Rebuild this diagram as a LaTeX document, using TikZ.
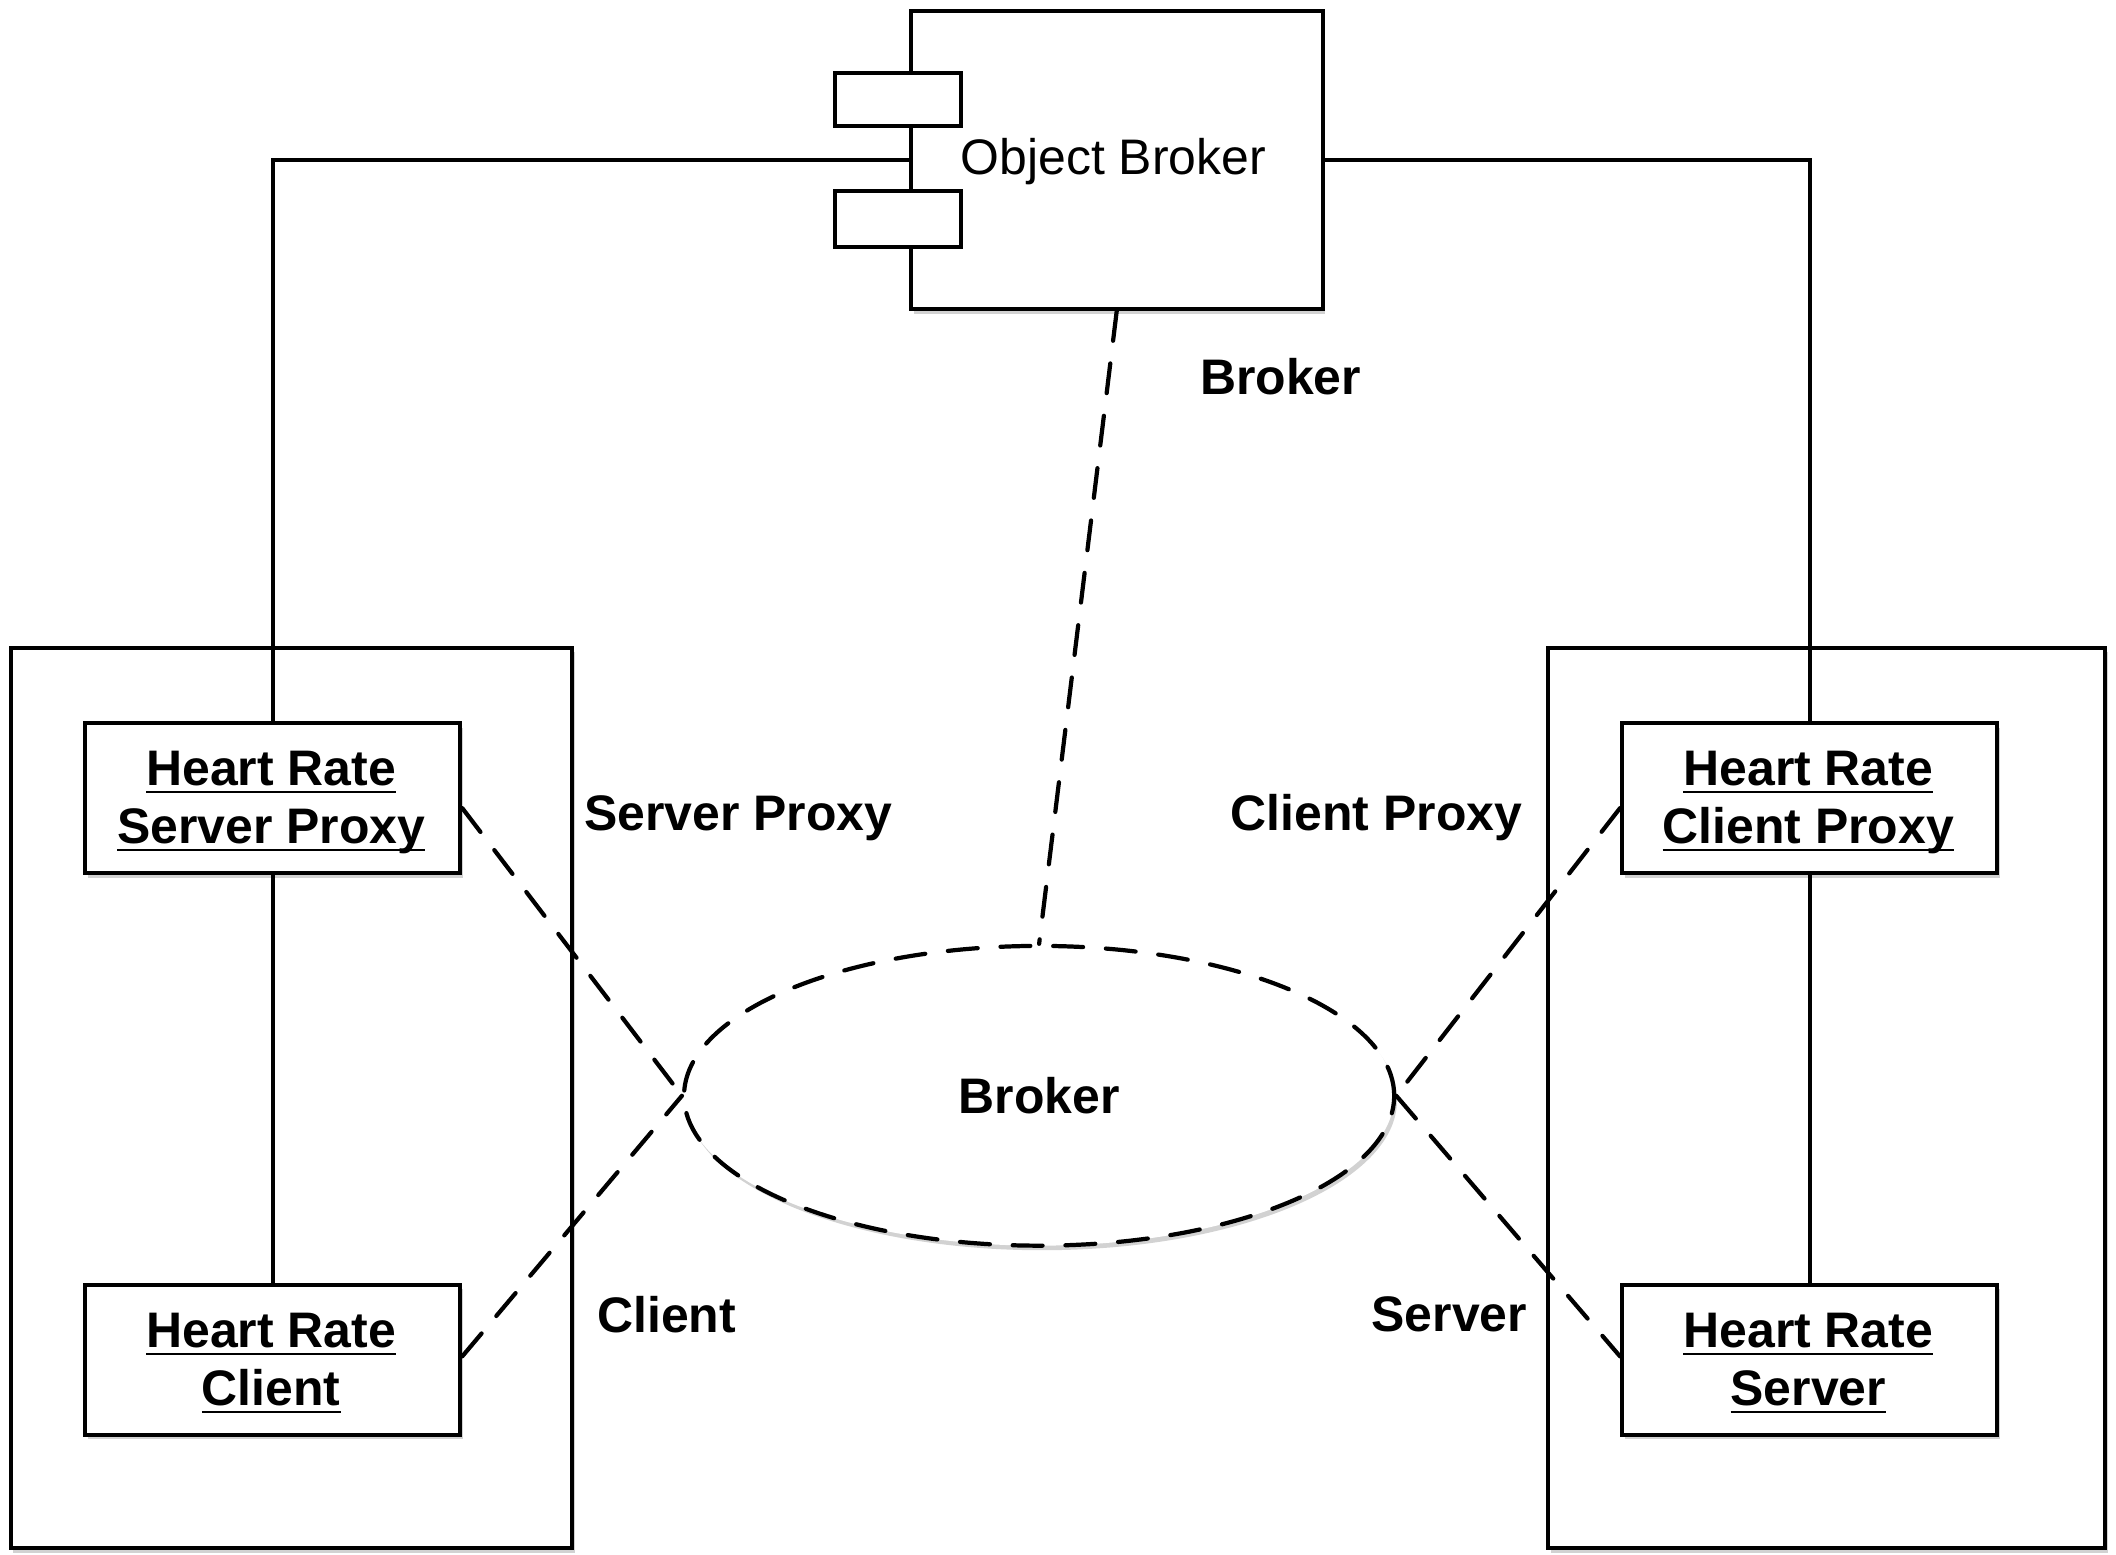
\documentclass[tikz,border=0pt]{standalone}
\usepackage{fontspec}
\setmainfont{Liberation Sans}
\usetikzlibrary{shapes.geometric,shadows}
\newcommand\uln[1]{\setbox0=\hbox{#1}\rlap{\rule[-2.3pt]{\wd0}{0.75pt}}\box0}
\begin{document}
\begin{tikzpicture}[x=0.013495cm, y=-0.013495cm,
  shad/.style={drop shadow={opacity=0.35, shadow xshift=0.8pt, shadow yshift=-1.3pt}},
  umlbox/.style={draw, rectangle, line width=1.15pt, fill=white, inner sep=0pt, shad},
  plainbox/.style={draw, rectangle, line width=1.15pt, fill=white, inner sep=0pt},
  ln/.style={line width=1.15pt},
  dsh/.style={line width=1.2pt, line cap=round, dash pattern=on 8.5pt off 6.5pt},
  bfnt/.style={font=\fontsize{14.2}{16.5}\selectfont\bfseries, align=center},
  rfnt/.style={font=\fontsize{14.2}{16.5}\selectfont},
  objbox/.style={umlbox, minimum width=3.752cm, minimum height=1.498cm, bfnt}]
\useasboundingbox[fill=white] (0,0) rectangle (1568,1152);
% outer nodes
\node[umlbox, minimum width=5.614cm, minimum height=9.001cm] (lo) at (216,813.5) {};
\node[umlbox, minimum width=5.573cm, minimum height=9.001cm] (ro) at (1353.5,813.5) {};
% object broker component
\node[umlbox, minimum width=4.116cm, minimum height=2.982cm] (ob) at (827.5,118.5) {};
\node[rfnt] (obt) at (825,120) {Object Broker};
\node[plainbox, minimum width=1.255cm, minimum height=0.530cm] (s1) at (665.5,74) {};
\node[plainbox, minimum width=1.255cm, minimum height=0.560cm] (s2) at (665.5,162) {};
% inner objects
\node[objbox] (sp) at (202,591.5) {};
\node[objbox] (hc) at (202,1007.5) {};
\node[objbox] (cp) at (1341,591.5) {};
\node[objbox] (hs) at (1341,1007.5) {};
\node[bfnt] (spt) at (201,594.5) {\uln{Heart Rate}\\\uln{Server Proxy}};
\node[bfnt] (hct) at (201,1010) {\uln{Heart Rate}\\\uln{Client}};
\node[bfnt] (cpt) at (1340,594.5) {\uln{Heart Rate}\\\uln{Client Proxy}};
\node[bfnt] (hst) at (1340,1010) {\uln{Heart Rate}\\\uln{Server}};
% broker collaboration
\node[ellipse, draw, dsh, fill=white, shad, minimum width=7.098cm, minimum height=2.996cm, inner sep=0pt, bfnt] (br) at (770,812) {Broker};
% solid connectors
\draw[ln] (ob.west) -| (sp.north);
\draw[ln] (ob.east) -| (cp.north);
\draw[ln] (sp.south) -- (hc.north);
\draw[ln] (cp.south) -- (hs.north);
% dashed connectors
\draw[dsh] (ob.south) -- (br.north);
\draw[dsh] (sp.-3) -- (br.west);
\draw[dsh] (hc.1) -- (br.west);
\draw[dsh] (cp.183) -- (br.east);
\draw[dsh] (br.east) -- (hs.179);
% role labels
\node[bfnt] (lb1) at (949,279) {Broker};
\node[bfnt] (lb2) at (547,606) {Server Proxy};
\node[bfnt] (lb3) at (1020,606) {Client Proxy};
\node[bfnt] (lb4) at (494,974) {Client};
\node[bfnt] (lb5) at (1074,974) {Server};
\end{tikzpicture}
\end{document}
